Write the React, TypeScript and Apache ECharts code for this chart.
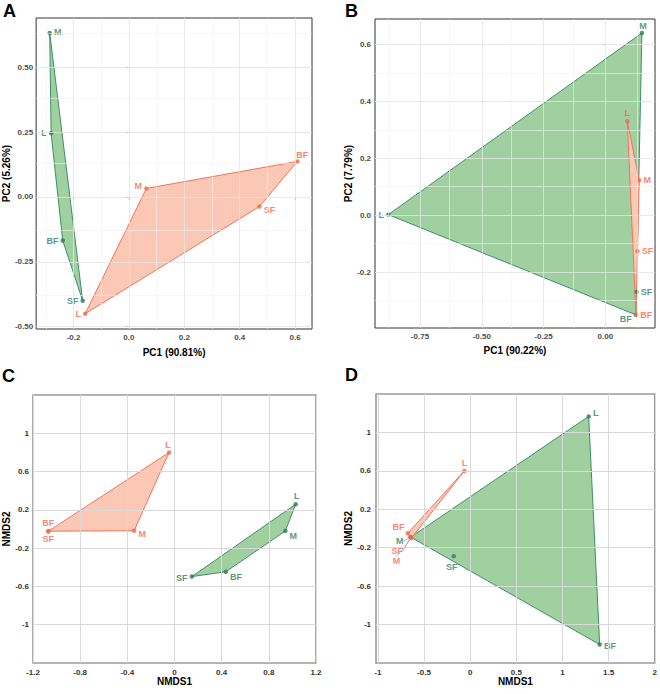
import React, { useEffect, useRef } from 'react';
import * as echarts from 'echarts';

// sample names (order of every coordinate array below)
const sampleNames = ['L', 'M', 'BF', 'SF'];

// Panel A (PCA)
const aGreenX = [-0.281, -0.286, -0.239, -0.167];
const aGreenY = [0.246, 0.632, -0.168, -0.4];
const aRedX = [-0.158, 0.063, 0.608, 0.471];
const aRedY = [-0.45, 0.033, 0.137, -0.037];
// Panel B (PCA)
const bGreenX = [-0.878, 0.148, 0.124, 0.126];
const bGreenY = [0.002, 0.64, -0.35, -0.269];
const bRedX = [0.089, 0.137, 0.124, 0.13];
const bRedY = [0.33, 0.123, -0.349, -0.126];
// Panel C (NMDS)
const cGreenX = [1.028, 0.94, 0.435, 0.147];
const cGreenY = [0.259, -0.021, -0.447, -0.497];
const cRedX = [-0.046, -0.342, -1.07, -1.07];
const cRedY = [0.8, -0.018, -0.023, -0.023];
// Panel D (NMDS)
const dGreenX = [1.284, -0.644, 1.403, -0.178];
const dGreenY = [1.167, -0.09, -1.208, -0.288];
const dRedX = [-0.0625, -0.636, -0.677, -0.648];
const dRedY = [0.6, -0.1, -0.05, -0.09];

// axis ticks
const aXTicks = [-0.2, 0, 0.2, 0.4, 0.6];
const aXMinor = [-0.3, -0.1, 0.1, 0.3, 0.5];
const aYTicks = [-0.5, -0.25, 0, 0.25, 0.5];
const aYMinor = [-0.375, -0.125, 0.125, 0.375, 0.625];
const bXTicks = [-0.75, -0.5, -0.25, 0];
const bXMinor = [-0.875, -0.625, -0.375, -0.125, 0.125];
const bYTicks = [-0.2, 0, 0.2, 0.4, 0.6];
const bYMinor = [-0.3, -0.1, 0.1, 0.3, 0.5];
const cXTicks = [-1.2, -0.8, -0.4, 0, 0.4, 0.8, 1.2];
const cYTicks = [-1, -0.6, -0.2, 0.2, 0.6, 1];
const dXTicks = [-1, -0.5, 0, 0.5, 1, 1.5, 2];
const dYTicks = [-1, -0.6, -0.2, 0.2, 0.6, 1];

// axis titles
const axisTitles = {
  A: ['PC1 (90.81%)', 'PC2 (5.26%)'],
  B: ['PC1 (90.22%)', 'PC2 (7.79%)'],
  C: ['NMDS1', 'NMDS2'],
  D: ['NMDS1', 'NMDS2'],
};

const FONT = '"Liberation Sans", Arial, Helvetica, sans-serif';
const GREEN_PT = '#2f7b5c';
const GREEN_LINE = '#3f8f69';
const GREEN_FILL = '#a0d0a0';
const RED_PT = '#f2694e';
const RED_LINE = '#f07459';
const RED_FILL = '#fbc8b5';

// label placement styles (order L, M, BF, SF): [position, dx, dy]
type LP = [string, number, number];
const labelStyles: Record<string, LP[]> = {
  Ag: [['left', 0, 0], ['right', 0, -1], ['left', 0, 0], ['left', 0, 0]],
  Ar: [['left', 0, 0], ['left', 0, -2], ['top', 5, 2], ['right', 0, 3]],
  Bg: [['left', 0, 0], ['top', 1, 2], ['left', 0, 4], ['right', 0, 0]],
  Br: [['top', 0, 1], ['right', 0, 0], ['right', 0, 0], ['right', 0, 0]],
  Cg: [['top', 1, 1], ['right', 0, 5], ['right', 0, 5], ['left', 0, 1]],
  Cr: [['top', -1, 1], ['right', 0, 3], ['top', 0, 1], ['bottom', 0, -1]],
  Dg: [['right', 0, -3], ['left', 0, 0], ['right', 0, 1], ['bottom', -2, 2]],
  Dr: [['top', 0, 1], ['left', 0, 0], ['left', 1, -6], ['left', 0, 0]],
};
// leader-line label shifts (dx, dy) for crowded points in panel D
const leaderShift: Record<string, ([number, number] | null)[]> = {
  Dg: [null, [-3, 4], null, null],
  Dr: [null, [-7, 23], null, [-3, 14]],
};

function hull(pts: number[][]): number[][] {
  const p = pts.map((q) => q.slice()).sort((a, b) => a[0] - b[0] || a[1] - b[1]);
  const cross = (o: number[], a: number[], b: number[]) =>
    (a[0] - o[0]) * (b[1] - o[1]) - (a[1] - o[1]) * (b[0] - o[0]);
  const lower: number[][] = [];
  for (const q of p) {
    while (lower.length >= 2 && cross(lower[lower.length - 2], lower[lower.length - 1], q) <= 0) lower.pop();
    lower.push(q);
  }
  const upper: number[][] = [];
  for (let i = p.length - 1; i >= 0; i--) {
    const q = p[i];
    while (upper.length >= 2 && cross(upper[upper.length - 2], upper[upper.length - 1], q) <= 0) upper.pop();
    upper.push(q);
  }
  upper.pop();
  lower.pop();
  return lower.concat(upper);
}

function polySeries(xs: number[], ys: number[], gi: number, fill: string, stroke: string) {
  const pts = xs.map((x, i) => [x, ys[i]]);
  const h = hull(pts);
  return {
    type: 'custom',
    xAxisIndex: gi,
    yAxisIndex: gi,
    silent: true,
    z: 2,
    data: h,
    encode: { x: 0, y: 1 },
    renderItem: (params: any, api: any) => {
      if (params.dataIndex !== 0) return null;
      const points = h.map((q) => api.coord(q));
      return {
        type: 'polygon',
        shape: { points },
        style: { fill, stroke, lineWidth: 1 },
      };
    },
  };
}

function pointSeries(key: string, xs: number[], ys: number[], gi: number, color: string) {
  const styles = labelStyles[key];
  const shifts = leaderShift[key] || [];
  const labelBase = {
    show: true,
    color,
    fontFamily: FONT,
    fontWeight: 'bold',
    fontSize: 9,
    distance: 2,
  };
  return {
    type: 'scatter',
    xAxisIndex: gi,
    yAxisIndex: gi,
    z: 4,
    symbolSize: 4.5,
    itemStyle: { color },
    data: xs.map((x, i) => {
      const s = styles[i];
      const hasLeader = !!shifts[i];
      return {
        name: sampleNames[i],
        value: [x, ys[i]],
        label: {
          ...labelBase,
          formatter: sampleNames[i],
          position: s[0],
        },
        labelLine: {
          show: hasLeader,
          lineStyle: { color: '#8a8a8a', width: hasLeader ? 0.6 : 0, opacity: hasLeader ? 1 : 0 },
        },
      };
    }),
    label: { ...labelBase, formatter: (p: any) => p.name },
    labelLayout: (p: any) => {
      const s = styles[p.dataIndex];
      const sh = shifts[p.dataIndex] || [0, 0];
      return { dx: s[1] + sh[0], dy: s[2] + sh[1] };
    },
  };
}

function gridSeries(gi: number, majorX: number[], minorX: number[], majorY: number[], minorY: number[], majorColor: string, minorColor: string, majorW: number) {
  const data: any[] = [];
  minorX.forEach((v) => data.push({ xAxis: v, lineStyle: { color: minorColor, width: 0.6, type: 'solid' } }));
  minorY.forEach((v) => data.push({ yAxis: v, lineStyle: { color: minorColor, width: 0.6, type: 'solid' } }));
  majorX.forEach((v) => data.push({ xAxis: v, lineStyle: { color: majorColor, width: majorW, type: 'solid' } }));
  majorY.forEach((v) => data.push({ yAxis: v, lineStyle: { color: majorColor, width: majorW, type: 'solid' } }));
  return {
    type: 'line',
    xAxisIndex: gi,
    yAxisIndex: gi,
    data: [],
    z: 1,
    silent: true,
    markLine: {
      silent: true,
      symbol: ['none', 'none'],
      label: { show: false },
      animation: false,
      data,
    },
  };
}

const dec = (n: number) => (v: number) => v.toFixed(n);
const gen = (v: number) => String(Math.round(v * 100) / 100);

function axisOpt(gi: number, min: number, max: number, ticks: number[], fmt: any, name: string, nameGap: number, showTick: boolean, labelColor: string, margin: number) {
  return {
    type: 'value',
    gridIndex: gi,
    min,
    max,
    name,
    nameLocation: 'middle',
    nameGap,
    nameTextStyle: { fontFamily: FONT, fontWeight: 'bold', fontSize: 10, color: '#000' },
    axisLine: { show: false },
    axisTick: { show: showTick, customValues: ticks, length: 3, lineStyle: { color: '#333', width: 0.8 } },
    axisLabel: { customValues: ticks, formatter: fmt, fontFamily: FONT, fontWeight: 'bold', fontSize: 8, color: labelColor, margin, showMinLabel: true, showMaxLabel: true },
    splitLine: { show: false },
  };
}

export default function App() {
  const ref = useRef<HTMLDivElement>(null);
  useEffect(() => {
    if (!ref.current) return;
    const chart = echarts.init(ref.current, undefined, { renderer: 'svg' });
    const gridAB = { show: true, borderColor: '#333', borderWidth: 1, backgroundColor: '#fff' };
    const gridCD = { show: true, borderColor: '#9a9a9a', borderWidth: 1.6, backgroundColor: '#fff' };
    const option: any = {
      animation: false,
      backgroundColor: '#fff',
      grid: [
        { ...gridAB, left: 34, top: 18, width: 278, height: 311 },
        { ...gridAB, left: 375, top: 19, width: 280, height: 309 },
        { ...gridCD, left: 33, top: 395, width: 283, height: 268 },
        { ...gridCD, left: 376, top: 394, width: 279, height: 269 },
      ],
      xAxis: [
        axisOpt(0, -0.335, 0.661, aXTicks, dec(1), axisTitles.A[0], 18, true, '#4d4d4d', 4),
        axisOpt(1, -0.932, 0.201, bXTicks, dec(2), axisTitles.B[0], 17, true, '#4d4d4d', 4),
        axisOpt(2, -1.2, 1.2, cXTicks, gen, axisTitles.C[0], 13, false, '#333', 5),
        axisOpt(3, -1.02, 2, dXTicks, gen, axisTitles.D[0], 13, false, '#333', 5),
      ],
      yAxis: [
        axisOpt(0, -0.509, 0.69, aYTicks, dec(2), axisTitles.A[1], 20, true, '#4d4d4d', 3),
        axisOpt(1, -0.396, 0.689, bYTicks, dec(1), axisTitles.B[1], 17, true, '#4d4d4d', 4),
        axisOpt(2, -1.4, 1.4, cYTicks, gen, axisTitles.C[1], 18, false, '#333', 4),
        axisOpt(3, -1.4, 1.4, dYTicks, gen, axisTitles.D[1], 23, false, '#333', 5),
      ],
      graphic: [
        { type: 'text', left: 3, top: 2, style: { text: 'A', font: `bold 18px ${FONT}`, fill: '#000' } },
        { type: 'text', left: 345, top: 2, style: { text: 'B', font: `bold 18px ${FONT}`, fill: '#000' } },
        { type: 'text', left: 2, top: 367, style: { text: 'C', font: `bold 18px ${FONT}`, fill: '#000' } },
        { type: 'text', left: 345, top: 366, style: { text: 'D', font: `bold 18px ${FONT}`, fill: '#000' } },
      ],
      series: [
        gridSeries(0, aXTicks, aXMinor, aYTicks, aYMinor, '#e3e3e3', '#f1f1f1', 0.8),
        gridSeries(1, bXTicks, bXMinor, bYTicks, bYMinor, '#e3e3e3', '#f1f1f1', 0.8),
        gridSeries(2, cXTicks, [], cYTicks, [], '#d9d9d9', '#d9d9d9', 1),
        gridSeries(3, dXTicks, [], dYTicks, [], '#d9d9d9', '#d9d9d9', 1),
        polySeries(aGreenX, aGreenY, 0, GREEN_FILL, GREEN_LINE),
        polySeries(aRedX, aRedY, 0, RED_FILL, RED_LINE),
        polySeries(bGreenX, bGreenY, 1, GREEN_FILL, GREEN_LINE),
        polySeries(bRedX, bRedY, 1, RED_FILL, RED_LINE),
        polySeries(cRedX, cRedY, 2, RED_FILL, RED_LINE),
        polySeries(cGreenX, cGreenY, 2, GREEN_FILL, GREEN_LINE),
        polySeries(dGreenX, dGreenY, 3, GREEN_FILL, GREEN_LINE),
        polySeries(dRedX, dRedY, 3, RED_FILL, RED_LINE),
        pointSeries('Ag', aGreenX, aGreenY, 0, GREEN_PT),
        pointSeries('Ar', aRedX, aRedY, 0, RED_PT),
        pointSeries('Bg', bGreenX, bGreenY, 1, GREEN_PT),
        pointSeries('Br', bRedX, bRedY, 1, RED_PT),
        pointSeries('Cg', cGreenX, cGreenY, 2, GREEN_PT),
        pointSeries('Cr', cRedX, cRedY, 2, RED_PT),
        pointSeries('Dg', dGreenX, dGreenY, 3, GREEN_PT),
        pointSeries('Dr', dRedX, dRedY, 3, RED_PT),
      ],
    };
    chart.setOption(option);
    return () => chart.dispose();
  }, []);
  return (
    <div
      ref={ref}
      style={{ position: 'fixed', left: 0, top: 0, width: 660, height: 694, background: '#fff' }}
    />
  );
}
